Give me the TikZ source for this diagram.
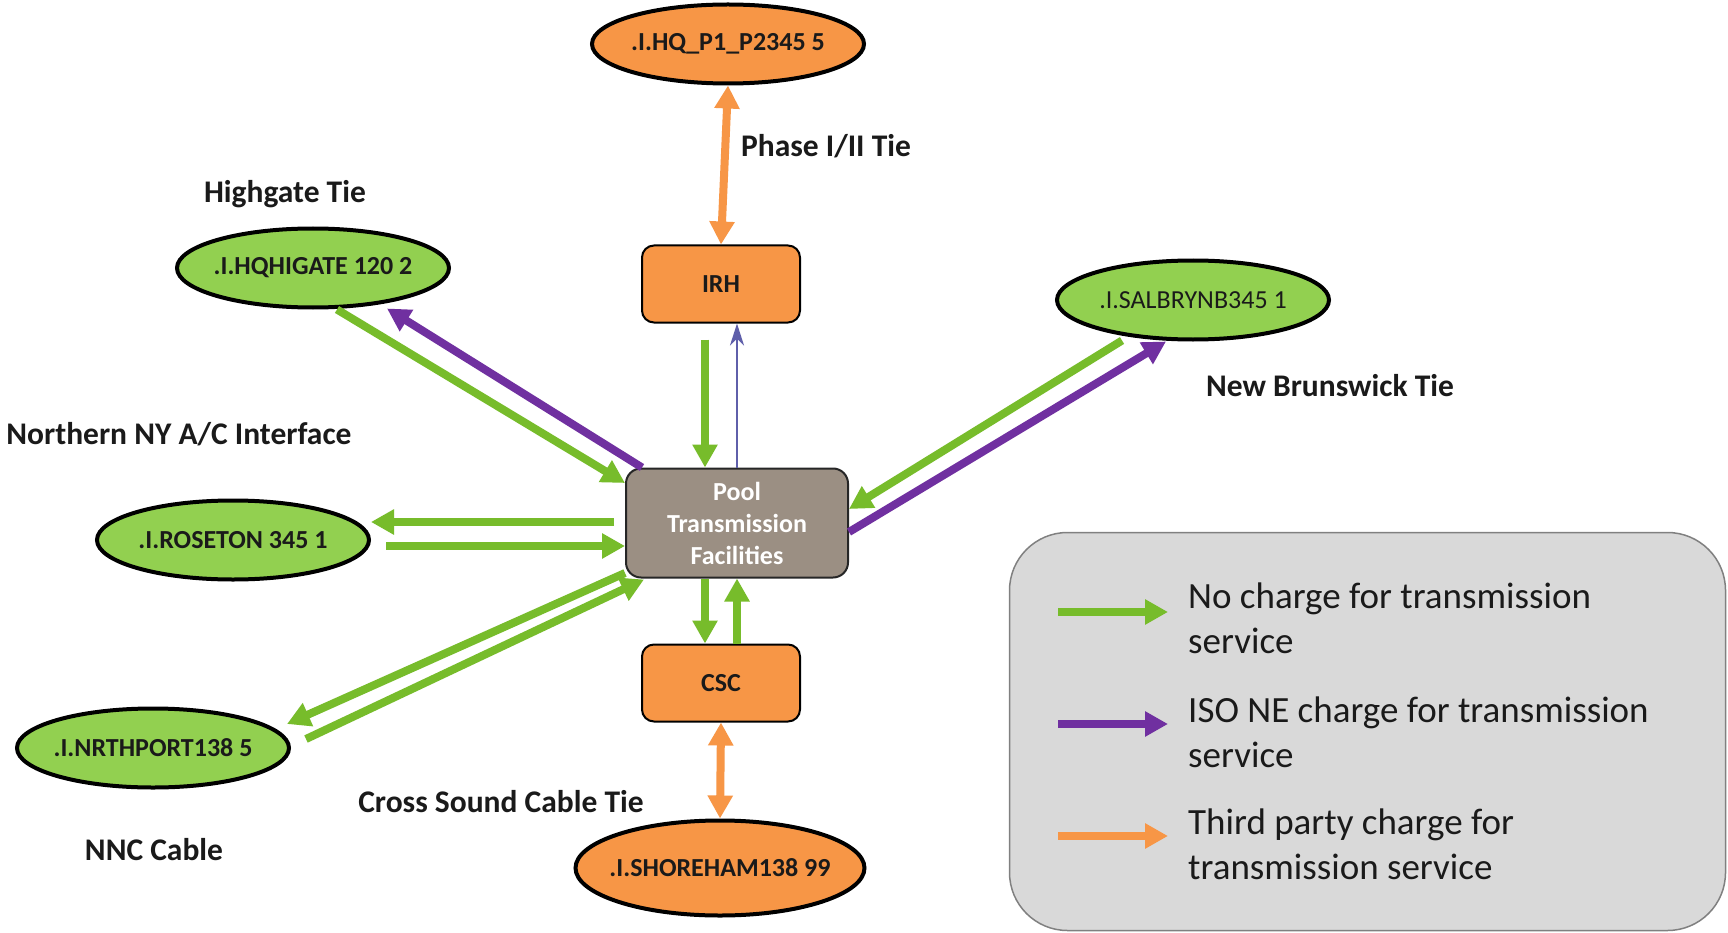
\documentclass[tikz,border=0pt]{standalone}
\usepackage{fontspec}
\setmainfont{Carlito}
\usetikzlibrary{arrows.meta,shapes.geometric,calc}

\definecolor{gArrow}{HTML}{77BC2B}
\definecolor{gFill}{HTML}{92D050}
\definecolor{oFill}{HTML}{F79646}
\definecolor{pArrow}{HTML}{7030A0}
\definecolor{bArrow}{HTML}{5F5FAA}
\definecolor{poolFill}{HTML}{9B8F83}
\definecolor{legFill}{HTML}{D9D9D9}
\definecolor{legLine}{HTML}{808080}
\definecolor{txt}{HTML}{1A1A1A}

\tikzset{
  station/.style={ellipse, draw=black, line width=4pt, minimum width=272pt, minimum height=79pt,
    inner ysep=0pt, inner xsep=-40pt, font=\fontsize{26}{30}\selectfont\bfseries, text=txt},
  greenst/.style={station, fill=gFill},
  orangest/.style={station, fill=oFill},
  hub/.style={rectangle, rounded corners=12pt, draw=black, line width=2pt, fill=oFill,
    minimum width=158pt, minimum height=77pt, font=\fontsize{26}{30}\selectfont\bfseries, text=txt},
  pool/.style={rectangle, rounded corners=15pt, draw=black!85, line width=2pt, fill=poolFill,
    minimum width=222pt, minimum height=109pt, align=center, text=white,
    font=\fontsize{26}{32}\selectfont\bfseries},
  tielabel/.style={font=\fontsize{31.5}{36}\selectfont\bfseries, text=txt, inner sep=0pt},
  legtext/.style={font=\fontsize{37}{45}\selectfont, text=txt, align=left, inner sep=0pt, anchor=west},
  garrow/.style={draw=gArrow, line width=8pt, -{Triangle[length=23pt,width=24pt]}},
  parrow/.style={draw=pArrow, line width=8pt, -{Triangle[length=23pt,width=24pt]}},
  oarrow/.style={draw=oFill, line width=8pt, {Triangle[length=23pt,width=24pt]}-{Triangle[length=23pt,width=24pt]}},
  olegarrow/.style={draw=oFill, line width=8pt, -{Triangle[length=23pt,width=24pt]}},
  barrow/.style={draw=bArrow, line width=2.5pt, -{Stealth[length=22pt,width=14pt,inset=7pt]}},
}

\begin{document}
\begin{tikzpicture}[x=1pt,y=-1pt]
\useasboundingbox (0,0) rectangle (1728,933);
\fill[white] (0,0) rectangle (1728,933);

% legend box
\node[draw=legLine, fill=legFill, rounded corners=58pt, line width=1.5pt, inner sep=0pt, outer sep=0pt,
      minimum width=716pt, minimum height=398pt] (legend) at (1367.5,731.5) {};

% stations
\node[orangest] (hq) at (728,44) {.I.HQ\_P1\_P2345 5};
\node[greenst] (hg) at (313,268) {.I.HQHIGATE 120 2};
\node[greenst, font=\fontsize{26}{30}\selectfont\mdseries] (sb) at (1193,300) {.I.SALBRYNB345 1};
\node[greenst] (ro) at (233,540) {.I.ROSETON 345 1};
\node[greenst] (np) at (153,748) {.I.NRTHPORT138 5};
\node[orangest, minimum width=289pt, minimum height=95pt] (sh) at (720,868) {.I.SHOREHAM138 99};

% hubs
\node[hub] (irh) at (721,284) {IRH};
\node[hub] (csc) at (721,683) {CSC};
\node[pool] (pool) at (737,523) {Pool\\Transmission\\Facilities};

% tie labels
\node[tielabel] (lphase) at (826,146) {Phase I/II Tie};
\node[tielabel] (lhg) at (285,194) {Highgate Tie};
\node[tielabel] (lnny) at (179,434) {Northern NY A/C Interface};
\node[tielabel] (lnb) at (1330,386) {New Brunswick Tie};
\node[tielabel] (lcs) at (501,802) {Cross Sound Cable Tie};
\node[tielabel] (lnnc) at (154,850) {NNC Cable};

% connector end points
\coordinate (irhout) at ($(irh.south)+(-16,16)$);
\coordinate (poolinN) at ($(pool.north)+(-32,0)$);
\coordinate (pooloutS) at ($(pool.south)+(-32,0)$);
\coordinate (cscinL) at ($(csc.north)+(-16,0)$);
\coordinate (cscoutR) at ($(csc.north)+(16,0)$);

% connectors
\draw[oarrow] (hq.south) -- (irh.north);
\draw[garrow] (irhout) -- (poolinN);
\draw[barrow] (pool.north) -- (pool.north |- irh.south);
\draw[garrow] (pooloutS) -- (cscinL);
\draw[garrow] (cscoutR) -- (pool.south);
\draw[oarrow] (csc.south) -- (sh.north);

\draw[garrow] ($(hg.south)+(24,0)$) -- ($(pool.west)+(0,-40)$);
\draw[parrow] ($(pool.north west)+(17,0)$) -- ($(hg.south)+(74,-1)$);

\draw[garrow] ($(sb.south)+(-71,-1)$) -- ($(pool.east)+(0,-14)$);
\draw[parrow] ($(pool.east)+(0,9)$) -- ($(sb.south)+(-27,0)$);

\draw[garrow] ($(pool.west)+(-11,-1)$) -- ($(ro.east)+(0,-18)$);
\draw[garrow] ($(ro.east)+(15,6)$) -- ($(pool.west)+(0,23)$);

\draw[garrow] ($(pool.west)+(0,50)$) -- ($(np.east)+(-4,-24)$);
\draw[garrow] ($(np.east)+(15,-9)$) -- ($(pool.south west)+(19,1)$);

% legend entries
\coordinate (l1a) at (1058,612); \coordinate (l1b) at (1168,612);
\coordinate (l2a) at (1058,724); \coordinate (l2b) at (1168,724);
\coordinate (l3a) at (1058,836); \coordinate (l3b) at (1168,836);
\draw[garrow] (l1a) -- (l1b);
\draw[parrow] (l2a) -- (l2b);
\draw[olegarrow] (l3a) -- (l3b);
\node[legtext] (t1) at (1188,618) {No charge for transmission\\service};
\node[legtext] (t2) at (1188,732) {ISO NE charge for transmission\\service};
\node[legtext] (t3) at (1188,844) {Third party charge for\\transmission service};
\end{tikzpicture}
\end{document}
